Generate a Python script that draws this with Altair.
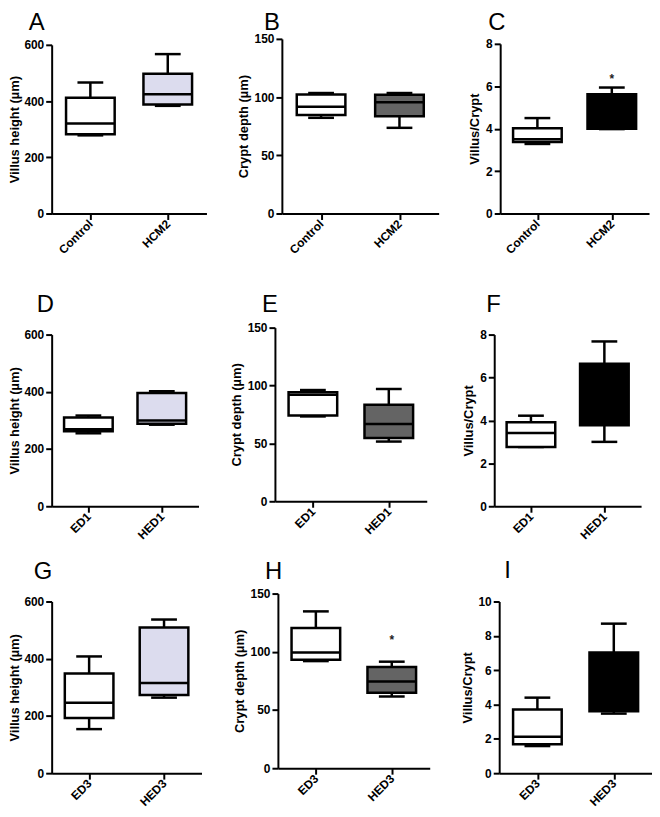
import altair as alt
import pandas as pd

FONT = "Liberation Sans"

# five-number summaries: [min, q1, median, q3, max]
A_groups = ["Control", "HCM2"]
A_ctrl = [278, 282, 320, 412, 466]
A_trt = [383, 388, 424, 497, 567]

B_groups = ["Control", "HCM2"]
B_ctrl = [82.2, 84.7, 91.8, 102.3, 103.5]
B_trt = [73.6, 83.5, 95.5, 102.0, 103.5]

C_groups = ["Control", "HCM2"]
C_ctrl = [3.28, 3.37, 3.5, 4.02, 4.5]
C_trt = [3.98, 4.0, 4.3, 5.62, 5.94]
C_star = [None, 6.5]

D_groups = ["ED1", "HED1"]
D_ctrl = [255, 262, 269, 310, 317]
D_trt = [285, 288, 300, 396, 402]

E_groups = ["ED1", "HED1"]
E_ctrl = [73.3, 74.1, 92.1, 94.1, 96.1]
E_trt = [51.6, 54.7, 66.7, 83.3, 97.0]

F_groups = ["ED1", "HED1"]
F_ctrl = [2.76, 2.76, 3.41, 3.91, 4.22]
F_trt = [3.0, 3.78, 5.0, 6.64, 7.68]

G_groups = ["ED3", "HED3"]
G_ctrl = [154, 193, 246, 348, 408]
G_trt = [264, 273, 315, 509, 537]

H_groups = ["ED3", "HED3"]
H_ctrl = [92.0, 93.2, 99.4, 120.5, 134.7]
H_trt = [61.6, 64.8, 74.4, 86.9, 91.5]
H_star = [None, 112.8]

I_groups = ["ED3", "HED3"]
I_ctrl = [1.58, 1.68, 2.12, 3.71, 4.4]
I_trt = [3.47, 3.61, 5.0, 7.03, 8.71]

villus_ticks = [0, 200, 400, 600]
crypt_ticks = [0, 50, 100, 150]
ratio_ticks = [0, 2, 4, 6, 8]
ratio_ticks_I = [0, 2, 4, 6, 8, 10]

LAV = "#dcdcee"
GRAY = "#646464"
BLACK = "#000000"


def panel(letter, ytitle, groups, ctrl, trt, ticks, fill, w, h, top, lx, ly, star=None, tpad=4):
    df = pd.DataFrame({
        "group": groups,
        "lo": [ctrl[0], trt[0]],
        "q1": [ctrl[1], trt[1]],
        "med": [ctrl[2], trt[2]],
        "q3": [ctrl[3], trt[3]],
        "hi": [ctrl[4], trt[4]],
    })
    if star is not None:
        df["star"] = star
    x = alt.X("group:N", sort=groups, scale=alt.Scale(type="point", padding=0.5),
              axis=alt.Axis(title=None, labelAngle=-45, labelAlign="right",
                            labelBaseline="middle"))
    ysc = alt.Scale(domain=[ticks[0], ticks[-1]], range=[h, top], nice=False, zero=True)
    yax = alt.Axis(values=ticks, title=ytitle, titlePadding=tpad)

    def Y(f):
        return alt.Y(f"{f}:Q", scale=ysc, axis=yax)

    base = alt.Chart(df)
    lw = 2.5
    lower = base.mark_rule(color="black", strokeWidth=lw).encode(x=x, y=Y("lo"), y2="q1")
    upper = base.mark_rule(color="black", strokeWidth=lw).encode(x=x, y=Y("q3"), y2="hi")
    cap_hi = base.mark_tick(color="black", opacity=1, size=26, thickness=lw).encode(x=x, y=Y("hi"))
    cap_lo = base.mark_tick(color="black", opacity=1, size=26, thickness=lw).encode(x=x, y=Y("lo"))
    box = base.mark_bar(width=49, stroke="black", strokeWidth=lw, opacity=1).encode(
        x=x, y=Y("q1"), y2="q3",
        fill=alt.condition(alt.datum.group == groups[0], alt.value("white"), alt.value(fill)),
    )
    med = base.mark_tick(color="black", opacity=1, size=49, thickness=lw).encode(x=x, y=Y("med"))
    layers = [lower, upper, cap_hi, cap_lo, box, med]
    if star is not None:
        layers.append(base.mark_text(text="*", font=FONT, fontSize=12, fontWeight="bold",
                                     color="#222222", baseline="middle", dy=3)
                      .encode(x=x, y=Y("star")))
    lab = alt.Chart(pd.DataFrame({"t": [letter]})).mark_text(
        font=FONT, fontSize=24, baseline="alphabetic", align="left", color="black"
    ).encode(text="t:N", x=alt.value(lx), y=alt.value(ly))
    layers.append(lab)
    return alt.layer(*layers).properties(width=w, height=h)


A = panel("A", "Villus height (µm)", A_groups, A_ctrl, A_trt, villus_ticks, LAV, 156, 176, 6, -23, -9, tpad=2)
B = panel("B", "Crypt depth (µm)", B_groups, B_ctrl, B_trt, crypt_ticks, GRAY, 158, 176, 0, -18, -9)
C = panel("C", "Villus/Crypt", C_groups, C_ctrl, C_trt, ratio_ticks, BLACK, 150, 176, 5, -12, -9, C_star)
D = panel("D", "Villus height (µm)", D_groups, D_ctrl, D_trt, villus_ticks, LAV, 148, 180, 7, -15, -16, tpad=2)
E = panel("E", "Crypt depth (µm)", E_groups, E_ctrl, E_trt, crypt_ticks, GRAY, 153, 175, 0, -13, -16)
F = panel("F", "Villus/Crypt", F_groups, F_ctrl, F_trt, ratio_ticks, BLACK, 148, 180, 7, -8, -16)
G = panel("G", "Villus height (µm)", G_groups, G_ctrl, G_trt, villus_ticks, LAV, 151, 181, 8, -18, -15, tpad=2)
H = panel("H", "Crypt depth (µm)", H_groups, H_ctrl, H_trt, crypt_ticks, GRAY, 153, 176, 0, -13, -15, H_star)
I = panel("I", "Villus/Crypt", I_groups, I_ctrl, I_trt, ratio_ticks_I, BLACK, 154, 181, 8, 5, -16)


def row(p1, p2, p3, s1, s2):
    left = alt.hconcat(p1, p2, spacing=s1)
    return alt.hconcat(left, p3, spacing=s2)


row1 = row(A, B, C, 30, 30)
row2 = row(D, E, F, 31, 36)
row3 = row(G, H, I, 31, 31)

top = alt.vconcat(row1, row2, spacing=37)
chart = alt.vconcat(top, row3, spacing=18).properties(padding=0).configure_view(stroke=None).configure_axis(
    grid=False,
    domainColor="black", domainWidth=2,
    tickColor="black", tickWidth=2, tickSize=6,
    labelFont=FONT, labelFontSize=12, labelFontWeight="bold", labelColor="black", labelPadding=2,
    titleFont=FONT, titleFontSize=13, titleFontWeight="bold", titleColor="black",
)

chart.save("out.html", embed_options={"renderer": "svg", "actions": False})
